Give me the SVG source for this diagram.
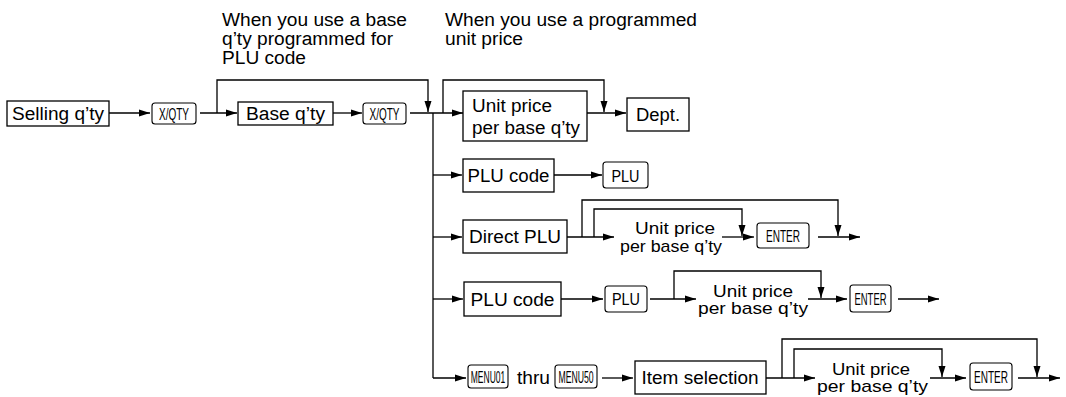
<svg xmlns="http://www.w3.org/2000/svg" width="1066" height="397" viewBox="0 0 1066 397">
<style>
.t{font-family:"Liberation Sans",Arial,Helvetica,sans-serif;font-size:18px;fill:#000}
.f{font-size:17px}
.k{font-family:"Liberation Sans",Arial,Helvetica,sans-serif;font-size:17px;fill:#000}
.m{text-anchor:middle}
.box{fill:#fff;stroke:#000;stroke-width:1.3}
.key{fill:#fff;stroke:#000;stroke-width:1.1}
.c{fill:none;stroke:#000;stroke-width:1.3}
</style>
<defs>
<marker id="ah" markerUnits="userSpaceOnUse" markerWidth="11" markerHeight="8" refX="11" refY="4" orient="auto">
<path d="M0,0.5 L11,4 L0,7.5 z" fill="#000"/>
</marker>
</defs>
<rect width="1066" height="397" fill="#fff"/>

<g id="labels">
<text class="t" x="222" y="26" textLength="185" lengthAdjust="spacingAndGlyphs">When you use a base</text>
<text class="t" x="222" y="45" textLength="171" lengthAdjust="spacingAndGlyphs">q’ty programmed for</text>
<text class="t" x="222" y="64" textLength="84" lengthAdjust="spacingAndGlyphs">PLU code</text>
<text class="t" x="445" y="26" textLength="252" lengthAdjust="spacingAndGlyphs">When you use a programmed</text>
<text class="t" x="445" y="45" textLength="78" lengthAdjust="spacingAndGlyphs">unit price</text>
</g>

<g id="connectors">
<path class="c" d="M109,113 H150" marker-end="url(#ah)"/>
<path class="c" d="M200,113 H237" marker-end="url(#ah)"/>
<path class="c" d="M217,113 V80 H428 V112" marker-end="url(#ah)"/>
<path class="c" d="M333,113 H362" marker-end="url(#ah)"/>
<path class="c" d="M410,113 H463" marker-end="url(#ah)"/>
<path class="c" d="M443,113 V80 H604 V112" marker-end="url(#ah)"/>
<path class="c" d="M587,113 H626" marker-end="url(#ah)"/>
<path class="c" d="M433,113 V378"/>

<path class="c" d="M433,175 H462" marker-end="url(#ah)"/>
<path class="c" d="M554,175 H602" marker-end="url(#ah)"/>

<path class="c" d="M433,237 H462" marker-end="url(#ah)"/>
<path class="c" d="M567,237 H614" marker-end="url(#ah)"/>
<path class="c" d="M582,237 V200 H838 V236" marker-end="url(#ah)"/>
<path class="c" d="M594,237 V209 H742 V236" marker-end="url(#ah)"/>
<path class="c" d="M722,237 H754" marker-end="url(#ah)"/>
<path class="c" d="M818,237 H860" marker-end="url(#ah)"/>

<path class="c" d="M433,299 H463" marker-end="url(#ah)"/>
<path class="c" d="M561,299 H603" marker-end="url(#ah)"/>
<path class="c" d="M650,299 H696" marker-end="url(#ah)"/>
<path class="c" d="M674,299 V271 H821 V298" marker-end="url(#ah)"/>
<path class="c" d="M808,299 H847" marker-end="url(#ah)"/>
<path class="c" d="M898,299 H939" marker-end="url(#ah)"/>

<path class="c" d="M433,378 H466" marker-end="url(#ah)"/>
<path class="c" d="M602,378 H633" marker-end="url(#ah)"/>
<path class="c" d="M766,378 H815" marker-end="url(#ah)"/>
<path class="c" d="M782,378 V339 H1037 V377" marker-end="url(#ah)"/>
<path class="c" d="M794,378 V349 H942 V377" marker-end="url(#ah)"/>
<path class="c" d="M930,378 H966" marker-end="url(#ah)"/>
<path class="c" d="M1018,378 H1060" marker-end="url(#ah)"/>
</g>

<g id="selling-qty">
<rect class="box" x="7" y="101" width="102" height="25"/>
<text class="t m" x="58" y="120" textLength="92" lengthAdjust="spacingAndGlyphs">Selling q’ty</text>
</g>
<g id="xqty-1">
<rect class="key" x="152" y="103" width="44" height="21" rx="3"/>
<text class="k m" x="174" y="119.5" textLength="30" lengthAdjust="spacingAndGlyphs">X/QTY</text>
</g>
<g id="base-qty">
<rect class="box" x="238" y="102" width="95" height="23"/>
<text class="t m" x="285.5" y="120" textLength="79" lengthAdjust="spacingAndGlyphs">Base q’ty</text>
</g>
<g id="xqty-2">
<rect class="key" x="363" y="103" width="43" height="21" rx="3"/>
<text class="k m" x="384.5" y="119.5" textLength="30" lengthAdjust="spacingAndGlyphs">X/QTY</text>
</g>
<g id="unit-price-main">
<rect class="box" x="463" y="91" width="124" height="50"/>
<text class="t" x="472" y="111.5" textLength="80" lengthAdjust="spacingAndGlyphs">Unit price</text>
<text class="t" x="472" y="133.5" textLength="108" lengthAdjust="spacingAndGlyphs">per base q’ty</text>
</g>
<g id="dept">
<rect class="box" x="627" y="98" width="62" height="33"/>
<text class="t m" x="658" y="121" textLength="44" lengthAdjust="spacingAndGlyphs">Dept.</text>
</g>

<g id="plu-code-1">
<rect class="box" x="463" y="159" width="91" height="33"/>
<text class="t m" x="508.5" y="182" textLength="82" lengthAdjust="spacingAndGlyphs">PLU code</text>
</g>
<g id="plu-key-1">
<rect class="key" x="603" y="162" width="45" height="26" rx="3"/>
<text class="k m" x="625.5" y="181.5" textLength="28" lengthAdjust="spacingAndGlyphs">PLU</text>
</g>

<g id="direct-plu">
<rect class="box" x="463" y="220" width="104" height="33"/>
<text class="t m" x="515" y="243" textLength="92" lengthAdjust="spacingAndGlyphs">Direct PLU</text>
</g>
<g id="unit-price-b">
<text class="t f m" x="675" y="234" textLength="80" lengthAdjust="spacingAndGlyphs">Unit price</text>
<text class="t f m" x="671" y="251.5" textLength="102" lengthAdjust="spacingAndGlyphs">per base q’ty</text>
</g>
<g id="enter-b">
<rect class="key" x="757" y="223" width="52" height="25" rx="3"/>
<text class="k m" x="783" y="241.5" textLength="34" lengthAdjust="spacingAndGlyphs">ENTER</text>
</g>

<g id="plu-code-2">
<rect class="box" x="464" y="282" width="97" height="34"/>
<text class="t m" x="512.5" y="305.5" textLength="84" lengthAdjust="spacingAndGlyphs">PLU code</text>
</g>
<g id="plu-key-2">
<rect class="key" x="605" y="286" width="42" height="26" rx="3"/>
<text class="k m" x="626" y="305" textLength="28" lengthAdjust="spacingAndGlyphs">PLU</text>
</g>
<g id="unit-price-c">
<text class="t f m" x="753" y="296.5" textLength="80" lengthAdjust="spacingAndGlyphs">Unit price</text>
<text class="t f m" x="753" y="314" textLength="110" lengthAdjust="spacingAndGlyphs">per base q’ty</text>
</g>
<g id="enter-c">
<rect class="key" x="850" y="285" width="41" height="27" rx="3"/>
<text class="k m" x="870.5" y="304.5" textLength="32" lengthAdjust="spacingAndGlyphs">ENTER</text>
</g>

<g id="menu01">
<rect class="key" x="468" y="365" width="40" height="23" rx="3"/>
<text class="k m" transform="translate(488,382.5) scale(0.5,1)" x="0" y="0">MENU01</text>
</g>
<g id="thru">
<text class="t" x="517" y="384" textLength="33" lengthAdjust="spacingAndGlyphs">thru</text>
</g>
<g id="menu50">
<rect class="key" x="555" y="365" width="42" height="23" rx="3"/>
<text class="k m" transform="translate(576,382.5) scale(0.51,1)" x="0" y="0">MENU50</text>
</g>
<g id="item-selection">
<rect class="box" x="635" y="361" width="131" height="33"/>
<text class="t m" x="700" y="384" textLength="117" lengthAdjust="spacingAndGlyphs">Item selection</text>
</g>
<g id="unit-price-d">
<text class="t f m" x="871" y="374.5" textLength="78" lengthAdjust="spacingAndGlyphs">Unit price</text>
<text class="t f m" x="872.5" y="392" textLength="111" lengthAdjust="spacingAndGlyphs">per base q’ty</text>
</g>
<g id="enter-d">
<rect class="key" x="970" y="363" width="42" height="27" rx="3"/>
<text class="k m" x="991" y="382.5" textLength="34" lengthAdjust="spacingAndGlyphs">ENTER</text>
</g>
</svg>
